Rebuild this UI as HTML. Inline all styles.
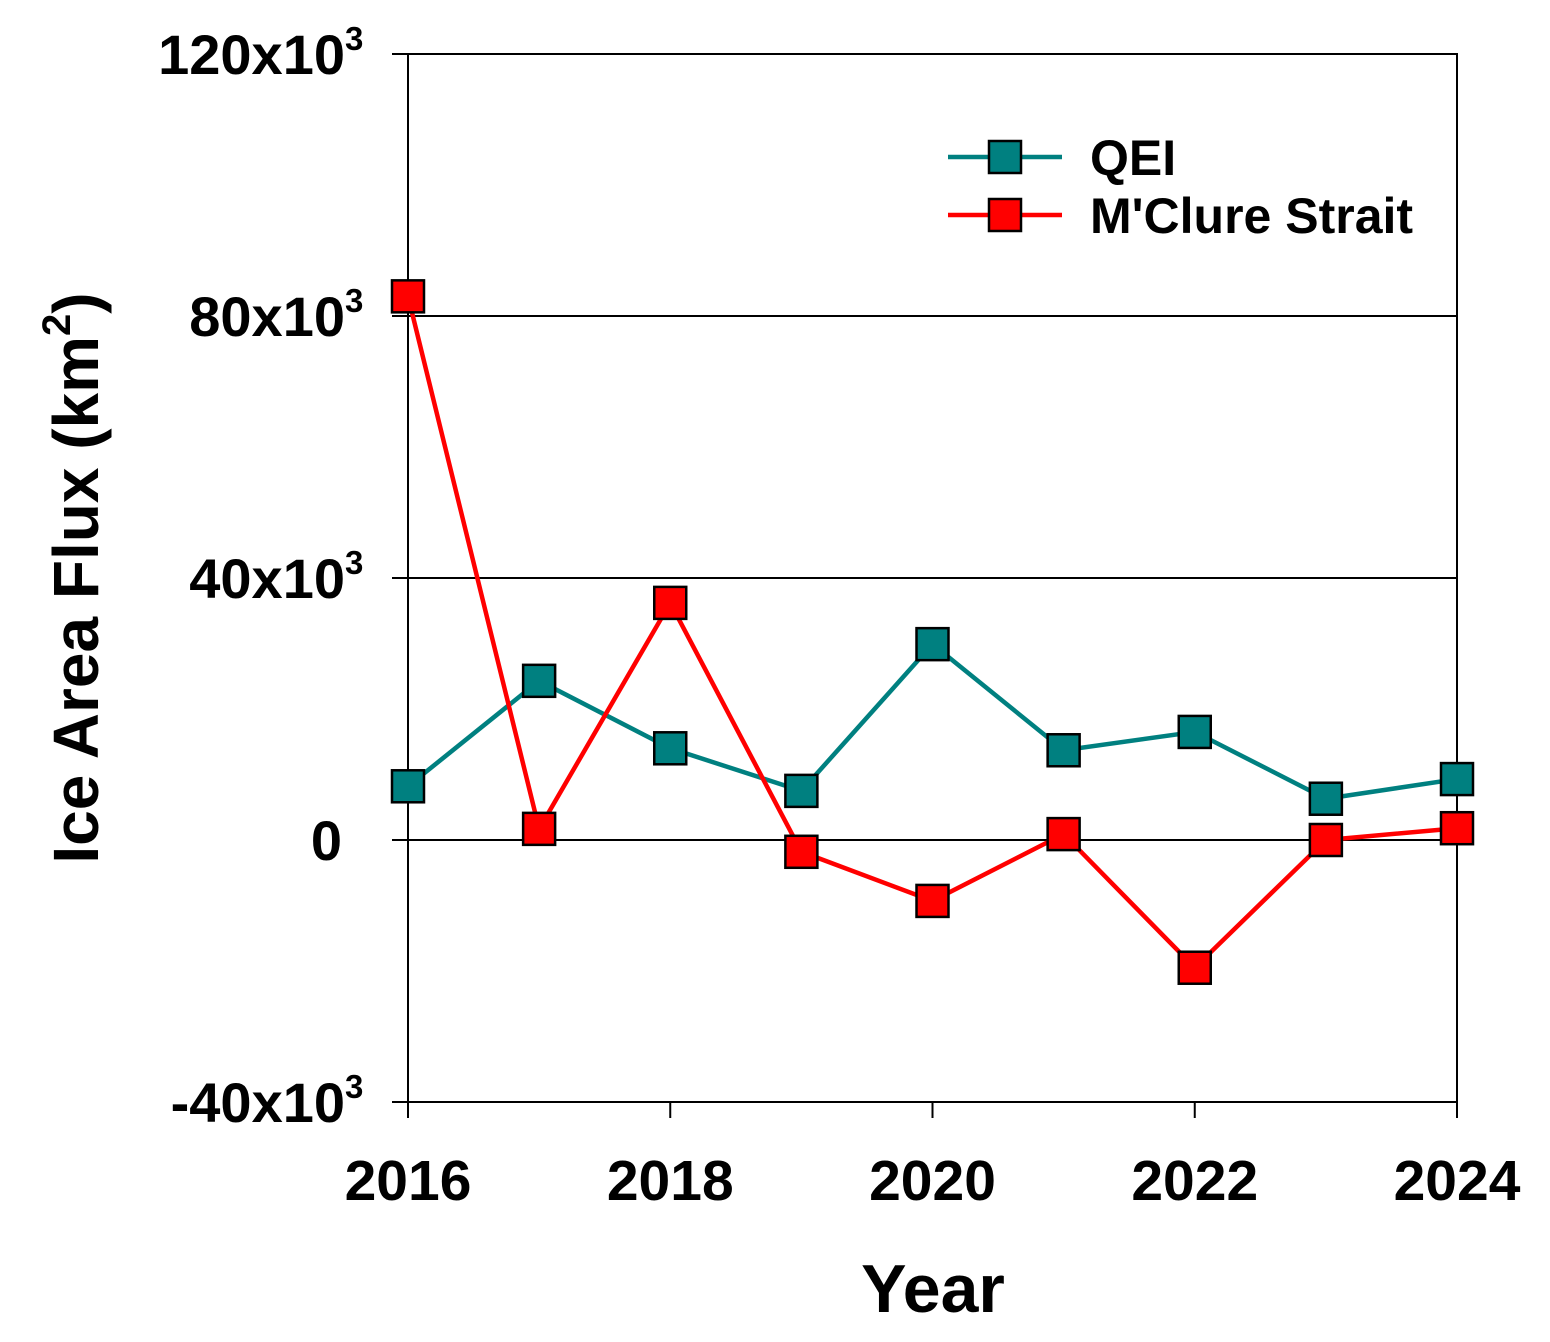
<!DOCTYPE html>
<html><head><meta charset="utf-8"><style>
body{margin:0;background:#fff;}
svg{display:block;font-family:"Liberation Sans",Arial,sans-serif;font-weight:bold;}
</style></head><body>
<svg id="chart" width="1550" height="1342" viewBox="0 0 1550 1342">
<g id="grid"></g><g id="axes"></g><g id="series"></g><g id="legend"></g>
<text x="933" y="1312" font-size="68" text-anchor="middle">Year</text>
<text transform="translate(98,578) rotate(-90)" font-size="64" text-anchor="middle">Ice Area Flux (km<tspan font-size="40" dy="-28">2</tspan><tspan dy="28">)</tspan></text>
</svg>
<script>
const years=[2016,2017,2018,2019,2020,2021,2022,2023,2024];
const qei=[8.2,24.3,14,7.5,29.9,13.7,16.5,6.3,9.3];
const mclure=[83,1.7,36.2,-1.8,-9.3,0.9,-19.5,0,1.8];
const yTicks=[-40,0,40,80,120];
const yTickLabels=["-40x10","0","40x10","80x10","120x10"];
const xTicks=[2016,2018,2020,2022,2024];
const NS="http://www.w3.org/2000/svg";
const X0=408,X1=1457,Y0=1102,Y1=54;
const xs=v=>X0+(v-2016)/(2024-2016)*(X1-X0);
const ys=v=>Y0-(v+40)/160*(Y0-Y1);
function mk(tag,attrs,parent){const e=document.createElementNS(NS,tag);for(const k in attrs)e.setAttribute(k,attrs[k]);document.getElementById(parent).appendChild(e);return e;}
let f=mk('path',{d:`M${X0},${Y1}H${X1}V${Y0}H${X0}Z`,fill:'none',stroke:'#000','stroke-width':2},'axes');


yTicks.forEach((t,i)=>{
 const y=ys(t);
 if(t>-40&&t<120){const g=mk('line',{x1:X0,x2:X1,y1:y,y2:y,stroke:'#000','stroke-width':2},'grid');
 
 }
 const tk=mk('line',{x1:392,x2:X0,y1:y,y2:y,stroke:'#000','stroke-width':2},'axes');
 
 
 const tx=mk('text',{x:t===0?342:345,y:y+20,'font-size':56,'text-anchor':'end'},'axes');
 tx.textContent=yTickLabels[i];
 
 
 if(t!==0){const s=mk('text',{x:345,y:y-4,'font-size':33},'axes');s.textContent='3';
 
 }
});
xTicks.forEach(t=>{
 const x=xs(t);
 const tk=mk('line',{x1:x,x2:x,y1:Y0,y2:1118,stroke:'#000','stroke-width':2},'axes');
 
 
 const tx=mk('text',{x:x,y:1200,'font-size':57,'text-anchor':'middle'},'axes');
 tx.textContent=t;
 
 
});
function series(vals,color,name){
 const pts=vals.map((v,i)=>xs(years[i])+','+ys(v)).join(' ');
 const l=mk('polyline',{points:pts,fill:'none',stroke:color,'stroke-width':4.5},'series');
 
 
 vals.forEach((v,i)=>{
  const r=mk('rect',{x:xs(years[i])-16,y:ys(v)-16,width:32,height:32,fill:color,stroke:'#000','stroke-width':2.5},'series');
  
  
 });
}
series(qei,'#008080','qei');
series(mclure,'#ff0000','mclure');
[['QEI','#008080',157,'legend-qei'],["M'Clure Strait",'#ff0000',215,'legend-mclure']].forEach(([lab,c,y,n])=>{
 const l=mk('line',{x1:948,x2:1062,y1:y,y2:y,stroke:c,'stroke-width':4.5},'legend');
 
 
 const r=mk('rect',{x:989,y:y-16,width:32,height:32,fill:c,stroke:'#000','stroke-width':2.5},'legend');
 
 
 const t=mk('text',{x:1090,y:y+18,'font-size':50},'legend');
 t.textContent=lab;
 
 
});
</script>
</body></html>
